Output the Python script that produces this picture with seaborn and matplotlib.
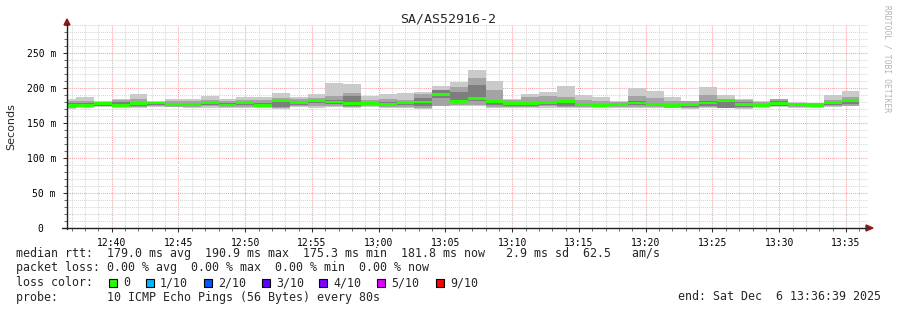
import numpy as np
import pandas as pd
import matplotlib
matplotlib.use("Agg")
import matplotlib.pyplot as plt
import matplotlib.dates as mdates
from matplotlib.ticker import MultipleLocator, FuncFormatter
from matplotlib.lines import Line2D
from matplotlib.patches import Rectangle, Polygon
import seaborn as sns

# ---------------- data (ms) ----------------
title = "SA/AS52916-2"
step_start = "2025-12-06 12:36:00"
step_seconds = 80
view_start = "2025-12-06 12:36:39"
view_end = "2025-12-06 13:36:39"

median = [175.5, 175.5, 177.5, 175.5, 178.0, 178.5, 176.5, 177.0, 178.5, 175.7,
          178.7, 175.5, 181.5, 179.3, 181.5, 180.0, 178.0, 178.0, 177.0, 178.5,
          180.0, 190.5, 180.5, 185.5, 180.5, 177.5, 177.5, 179.0, 180.5, 177.0,
          175.0, 176.0, 178.5, 177.0, 175.0, 176.0, 178.5, 182.5, 176.5, 175.5,
          178.0, 176.0, 175.5, 179.5, 181.8]
ping_max = [185, 187.5, 182, 185, 191, 182, 184, 184, 189, 184.5,
            187, 187, 193, 187.5, 191, 207.5, 206, 189, 192, 193,
            194, 203, 209, 226, 210, 185, 191, 194, 203, 190,
            187, 182, 199.5, 196, 187, 182, 202, 190, 185, 182,
            184, 180, 179, 190, 196]
ping_min = [170, 171, 173, 172, 172, 173, 172.5, 172, 172, 171,
            172, 171, 170, 173, 172, 173.5, 172, 173, 172, 171,
            170, 174, 174, 174, 172, 171, 171, 172, 172, 172,
            171.5, 171, 172, 171, 171, 170, 172, 172, 170, 172,
            173, 172, 172, 173, 174]
ping_hi2 = [181, 181, 180, 183, 185, 180, 182, 181, 183, 181,
            183, 183, 185, 184, 186, 189, 193, 183, 184, 183,
            192, 197, 202, 214, 197, 183, 187, 188, 187, 183,
            182, 180, 188, 186, 182, 181, 190, 185, 183, 180,
            184, 178.5, 178, 182.5, 187]
ping_lo2 = [171.5, 172.5, 174, 173, 173.5, 174, 173.5, 173.5, 174, 172.5,
            173.5, 172.5, 171.5, 174, 174, 175, 173.5, 174.5, 173.5, 173,
            172, 175, 176, 176, 173.5, 173, 173, 174, 173, 173.5,
            172.5, 172.5, 173.5, 173, 172, 171.5, 173.5, 173, 171, 173,
            174, 173, 173, 174, 175]
ping_hi3 = [178, 179, 179, 180, 180, 180, 178, 179, 180, 178,
            180, 178, 182, 181, 183, 183, 188, 180, 180, 180,
            186, 197, 195, 204, 183, 179, 180, 182, 181, 179,
            177, 178, 181, 179, 177, 178, 181, 184, 180, 177,
            182, 177, 177, 181, 183]
ping_lo3 = [173, 174, 175, 174, 175, 176, 174, 175, 176, 174,
            176, 174, 173, 176, 178, 177, 175, 176, 175, 176,
            175, 186, 178, 182, 176, 175, 175, 176, 174, 175,
            173, 174, 176, 175, 173, 173, 175, 172, 173, 174,
            175, 174, 174, 176, 177]

stats_line = "median rtt:  179.0 ms avg  190.9 ms max  175.3 ms min  181.8 ms now   2.9 ms sd  62.5   am/s"
loss_line = "packet loss: 0.00 % avg  0.00 % max  0.00 % min  0.00 % now"
loss_labels = ["0", "1/10", "2/10", "3/10", "4/10", "5/10", "9/10"]
loss_colors = ["#26ff00", "#00b8ff", "#0059ff", "#5e00ff", "#7e00ff", "#dd00ff", "#ff0000"]
probe_line = "probe:       10 ICMP Echo Pings (56 Bytes) every 80s"
end_line = "end: Sat Dec  6 13:36:39 2025"

# ---------------- style ----------------
sns.set_theme(style="white")
plt.rcParams['font.family'] = ['DejaVu Sans Mono', 'DejaVu Sans']

W, H = 897, 310
fig = plt.figure(figsize=(W / 100, H / 100), dpi=100, facecolor="white")


def fx(px):
    return px / W


def fy(py):
    return 1 - py / H


ax = fig.add_axes([fx(67), fy(228), (868 - 67) / W, (228 - 25) / H])
ax.set_facecolor("white")

times = pd.date_range(step_start, periods=len(median), freq=f"{step_seconds}s")
width = step_seconds / 86400.0
x = mdates.date2num(times.to_pydatetime())

df = pd.DataFrame(dict(x=x, median=median, pmax=ping_max, pmin=ping_min,
                       hi2=ping_hi2, lo2=ping_lo2, hi3=ping_hi3, lo3=ping_lo3))

bands = [("pmin", "pmax", "#cacaca"), ("lo2", "hi2", "#a4a4a4"), ("lo3", "hi3", "#7e7e7e")]
for lo, hi, col in bands:
    ax.bar(df["x"], df[hi] - df[lo], bottom=df[lo], width=width, align="edge",
           color=col, linewidth=0, zorder=3)
half = 2.0
ax.bar(df["x"], 2 * half, bottom=df["median"] - half, width=width, align="edge",
       color=loss_colors[0], linewidth=0, zorder=3.5)

ax.set_xlim(mdates.date2num(pd.Timestamp(view_start)), mdates.date2num(pd.Timestamp(view_end)))
ax.set_ylim(0, 290)

ax.yaxis.set_major_locator(MultipleLocator(50))
ax.yaxis.set_minor_locator(MultipleLocator(10))
ax.yaxis.set_major_formatter(FuncFormatter(lambda v, p: "0  " if v == 0 else f"{int(v)} m"))
ax.xaxis.set_major_locator(mdates.MinuteLocator(byminute=range(0, 60, 5)))
ax.xaxis.set_minor_locator(mdates.MinuteLocator())
ax.xaxis.set_major_formatter(mdates.DateFormatter("%H:%M"))

ax.set_axisbelow(True)
ax.grid(which="minor", color="#d6d6d6", linestyle=(0, (1, 1)), linewidth=0.75, zorder=1)
ax.grid(which="major", color="#f4a4a4", linestyle=(0, (1, 1)), linewidth=0.75, zorder=1.5)

for s in ax.spines.values():
    s.set_visible(False)
ax.tick_params(axis="both", which="major", length=3, width=0.75, color="#303030",
               labelsize=7, labelcolor="black", direction="out", pad=5)
ax.tick_params(axis="both", which="minor", length=2, width=0.6, color="#505050", direction="out")
ax.tick_params(axis="x", which="major", pad=4)
ax.tick_params(left=True, bottom=True, which="both")
ax.set_ylabel("")

fig.text(fx(11), fy(127), "Seconds", rotation=90, ha="center", va="center",
         family="DejaVu Sans", fontsize=8)

# axes lines with arrows
axis_col = "#202020"
arrow_col = "#8b1a1a"
fig.add_artist(Line2D([fx(67), fx(67)], [fy(229), fy(24)], color=axis_col, linewidth=1))
fig.add_artist(Line2D([fx(62), fx(866)], [fy(228), fy(228)], color=axis_col, linewidth=1))
fig.add_artist(Polygon([[fx(64), fy(25)], [fx(70), fy(25)], [fx(67), fy(19)]],
                       closed=True, color=arrow_col, transform=fig.transFigure))
fig.add_artist(Polygon([[fx(866), fy(225)], [fx(866), fy(231)], [fx(873), fy(228)]],
                       closed=True, color=arrow_col, transform=fig.transFigure))

# title and side text
fig.text(fx(448), fy(19), title, ha="center", va="center", fontsize=9.5)
fig.text(fx(887), fy(5), "RRDTOOL / TOBI OETIKER", rotation=270, ha="center", va="top",
         fontsize=5.8, color="#b4b4b4")

# legend / stats text
fs = 8.4
fig.text(fx(16), fy(254), stats_line, ha="left", va="center", fontsize=fs)
fig.text(fx(16), fy(268), loss_line, ha="left", va="center", fontsize=fs)
fig.text(fx(16), fy(283), "loss color:", ha="left", va="center", fontsize=fs)
sq_x = [109, 146, 204, 262, 319, 377, 436]
for lab, col, sx in zip(loss_labels, loss_colors, sq_x):
    fig.add_artist(Rectangle((fx(sx), fy(286.5)), 8 / W, 8 / H, transform=fig.transFigure,
                             facecolor=col, edgecolor="black", linewidth=0.8))
    fig.text(fx(sx + 14), fy(283), lab, ha="left", va="center", fontsize=fs)
fig.text(fx(16), fy(297), probe_line, ha="left", va="center", fontsize=fs)
fig.text(fx(881), fy(297), end_line, ha="right", va="center", fontsize=fs)

fig.savefig("out.png", dpi=100, facecolor="white")
